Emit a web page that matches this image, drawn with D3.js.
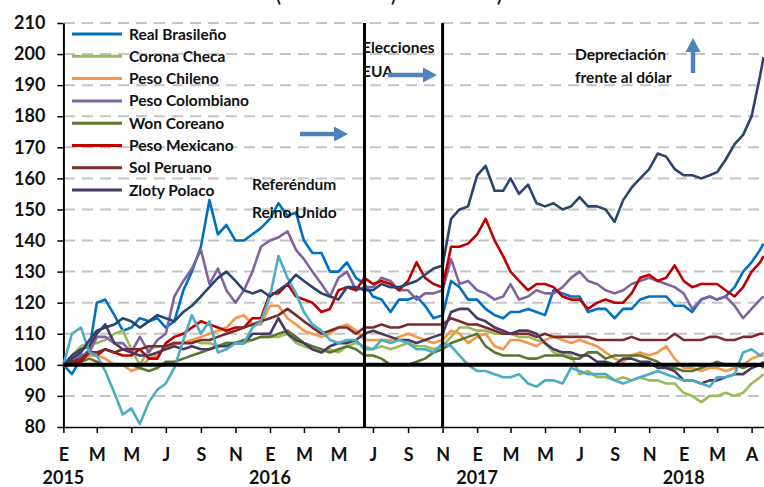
<!DOCTYPE html>
<html>
<head>
<meta charset="utf-8">
<script src="https://cdn.jsdelivr.net/npm/d3@7"></script>
<style>
  body { margin: 0; background: #fff; }
  text { font-family: Lato, "DejaVu Sans", sans-serif; font-weight: bold; fill: #111; }
</style>
</head>
<body>
<svg id="chart" width="764" height="487"></svg>
<script>
// fechas semi-mensuales (ene 2015 = 100)
const fechas = [
  "2015-01-01","2015-01-16","2015-02-01","2015-02-16","2015-03-01","2015-03-16","2015-04-01","2015-04-16","2015-05-01","2015-05-16",
  "2015-06-01","2015-06-16","2015-07-01","2015-07-16","2015-08-01","2015-08-16","2015-09-01","2015-09-16","2015-10-01","2015-10-16",
  "2015-11-01","2015-11-16","2015-12-01","2015-12-16","2016-01-01","2016-01-16","2016-02-01","2016-02-16","2016-03-01","2016-03-16",
  "2016-04-01","2016-04-16","2016-05-01","2016-05-16","2016-06-01","2016-06-16","2016-07-01","2016-07-16","2016-08-01","2016-08-16",
  "2016-09-01","2016-09-16","2016-10-01","2016-10-16","2016-11-01","2016-11-16","2016-12-01","2016-12-16","2017-01-01","2017-01-16",
  "2017-02-01","2017-02-16","2017-03-01","2017-03-16","2017-04-01","2017-04-16","2017-05-01","2017-05-16","2017-06-01","2017-06-16",
  "2017-07-01","2017-07-16","2017-08-01","2017-08-16","2017-09-01","2017-09-16","2017-10-01","2017-10-16","2017-11-01","2017-11-16",
  "2017-12-01","2017-12-16","2018-01-01","2018-01-16","2018-02-01","2018-02-16","2018-03-01","2018-03-16","2018-04-01","2018-04-16",
  "2018-05-01","2018-05-16","2018-05-22"
];

const realBrasileno = [
  100, 97, 102, 105, 120, 121, 116, 111, 112, 115,
  114, 115, 112, 114, 124, 130, 138, 153, 142, 145,
  140, 140, 142, 144, 147, 152, 148, 149, 140, 136,
  136, 130, 130, 133, 128, 126, 122, 121, 117, 121,
  121, 122, 119, 115, 116, 127, 125, 121, 121, 118,
  116, 115, 117, 117, 118, 117, 116, 124, 123, 122,
  122, 117, 118, 118, 115, 118, 118, 121, 122, 122,
  122, 119, 119, 117, 121, 122, 121, 122, 125, 130,
  133, 137, 139
];
const coronaCheca = [
  100, 103, 106, 107, 107, 108, 110, 111, 105, 100,
  105, 106, 106, 107, 107, 108, 107, 107, 106, 107,
  107, 107, 108, 109, 109, 109, 110, 107, 106, 105,
  104, 105, 104, 106, 107, 106, 105, 106, 105, 106,
  107, 106, 106, 105, 106, 109, 112, 112, 111, 111,
  110, 110, 110, 109, 109, 108, 107, 104, 103, 103,
  97, 98, 96, 96, 95, 96, 95, 96, 95, 95,
  94, 94, 91, 90, 88, 90, 90, 91, 90, 91,
  94, 96, 97
];
const pesoChileno = [
  100, 101, 102, 103, 103, 102, 100, 100, 98, 99,
  102, 103, 106, 107, 107, 108, 109, 110, 111, 112,
  115, 116, 113, 113, 119, 119, 115, 113, 111, 110,
  109, 110, 112, 113, 111, 108, 108, 108, 108, 109,
  110, 109, 108, 107, 108, 111, 110, 107, 109, 110,
  106, 105, 108, 108, 107, 106, 108, 109, 108, 107,
  108, 107, 106, 104, 102, 101, 103, 104, 103, 104,
  106, 102, 99, 99, 98, 99, 99, 98, 99, 100,
  102, 103, 104
];
const pesoColombiano = [
  100, 101, 103, 104, 109, 109, 107, 107, 104, 109,
  104, 108, 110, 122, 127, 131, 137, 126, 131, 124,
  120, 124, 130, 138, 140, 141, 143, 137, 134, 130,
  126, 122, 128, 130, 124, 125, 125, 128, 127, 124,
  124, 121, 123, 123, 124, 134, 126, 127, 124, 123,
  121, 122, 126, 121, 122, 124, 123, 123, 125, 128,
  130, 127, 126, 124, 123, 124, 126, 127, 128, 127,
  126, 125, 123, 118, 121, 122, 121, 122, 119, 115,
  118, 121, 122
];
const wonCoreano = [
  100, 100, 101, 102, 101, 100, 100, 100, 100, 99,
  98, 99, 101, 101, 102, 103, 104, 105, 106, 107,
  107, 108, 108, 109, 109, 110, 111, 109, 107, 106,
  105, 104, 105, 106, 105, 103, 103, 102, 100, 100,
  100, 101, 102, 104, 105, 107, 108, 109, 110, 106,
  104, 103, 103, 103, 102, 102, 103, 103, 103, 102,
  102, 104, 104, 102, 103, 103, 103, 103, 102, 101,
  99, 99, 98, 98, 99, 100, 101, 100, 100, 99,
  100, 100, 99
];
const pesoMexicano = [
  100, 101, 101, 104, 103, 105, 104, 103, 103, 105,
  102, 102, 107, 109, 110, 112, 114, 113, 112, 111,
  112, 112, 115, 115, 123, 123, 126, 122, 121, 120,
  117, 118, 124, 125, 124, 128, 126, 127, 126, 124,
  127, 133, 128, 126, 125, 138, 138, 139, 142, 147,
  140, 135, 130, 127, 124, 126, 126, 125, 122, 121,
  121, 118, 120, 121, 120, 120, 123, 128, 129, 127,
  128, 132, 127, 125, 126, 126, 126, 124, 122, 125,
  130, 133, 135
];
const solPeruano = [
  100, 101, 102, 104, 104, 105, 104, 105, 105, 105,
  106, 106, 106, 107, 107, 107, 108, 108, 109, 110,
  111, 112, 113, 114, 115, 116, 118, 116, 114, 112,
  110, 111, 112, 112, 110, 112, 112, 113, 112, 112,
  113, 113, 113, 113, 113, 115, 114, 113, 113, 112,
  111, 110, 110, 110, 110, 109, 110, 109, 109, 109,
  109, 109, 108, 108, 108, 108, 109, 108, 108, 108,
  108, 110, 108, 108, 108, 109, 109, 108, 108, 109,
  109, 110, 110
];
const zlotyPolaco = [
  100, 103, 105, 106, 110, 113, 107, 105, 104, 103,
  103, 104, 105, 106, 105, 106, 105, 105, 106, 106,
  107, 107, 110, 110, 110, 115, 110, 108, 107, 105,
  104, 106, 107, 107, 108, 110, 111, 110, 109, 108,
  108, 107, 108, 109, 110, 117, 118, 118, 115, 114,
  112, 111, 110, 111, 111, 110, 107, 105, 104, 104,
  103, 103, 101, 101, 100, 102, 102, 101, 101, 99,
  99, 98, 95, 95, 94, 95, 95, 96, 97, 97,
  99, 100, 101
];
// series sin entrada visible en la leyenda
const rubloRuso = [
  100, 110, 112, 104, 103, 98, 91, 84, 86, 81,
  88, 92, 94, 99, 108, 116, 110, 114, 104, 105,
  107, 107, 112, 114, 122, 135, 128, 123, 117, 113,
  111, 108, 107, 108, 108, 105, 105, 108, 107, 108,
  107, 105, 105, 104, 107, 106, 103, 100, 98, 98,
  97, 96, 96, 97, 94, 93, 95, 95, 94, 99,
  98, 97, 97, 97, 95, 94, 95, 96, 97, 98,
  97, 96, 95, 95, 94, 93, 96, 96, 97, 104,
  105, 103, 103
];
const liraTurca = [
  100, 102, 104, 108, 111, 112, 113, 115, 114, 112,
  114, 116, 115, 114, 117, 119, 122, 125, 128, 130,
  127, 124, 123, 124, 122, 124, 126, 129, 127, 125,
  123, 122, 121, 125, 125, 124, 124, 126, 125, 125,
  126, 127, 129, 131, 132, 147, 150, 151, 161, 164,
  156, 156, 160, 155, 158, 152, 151, 152, 150, 151,
  154, 151, 151, 150, 146, 153, 157, 160, 163, 168,
  167, 163, 161, 161, 160, 161, 162, 166, 171, 174,
  180, 193, 199
];

const nombres = ["Real Brasileño", "Corona Checa", "Peso Chileno", "Peso Colombiano",
                 "Won Coreano", "Peso Mexicano", "Sol Peruano", "Zloty Polaco", "Rublo Ruso", "Lira Turca"];
const colores = ["#0070C0", "#9BBB59", "#F79646", "#8064A2", "#5A7630",
                 "#C00000", "#7A2C2C", "#4A3A62", "#4BACC6", "#2A4470"];
const valores = [realBrasileno, coronaCheca, pesoChileno, pesoColombiano, wonCoreano,
                 pesoMexicano, solPeruano, zlotyPolaco, rubloRuso, liraTurca];
const enLeyenda = 8;

const ticksY = [80, 90, 100, 110, 120, 130, 140, 150, 160, 170, 180, 190, 200, 210];
const ticksX = ["2015-01-01","2015-03-01","2015-05-01","2015-07-01","2015-09-01","2015-11-01",
                "2016-01-01","2016-03-01","2016-05-01","2016-07-01","2016-09-01","2016-11-01",
                "2017-01-01","2017-03-01","2017-05-01","2017-07-01","2017-09-01","2017-11-01",
                "2018-01-01","2018-03-01","2018-05-01"];
const etiquetasX = ["E","M","M","J","S","N","E","M","M","J","S","N","E","M","M","J","S","N","E","M","A"];
const anios = [["2015-01-01","2015"], ["2016-01-01","2016"], ["2017-01-01","2017"], ["2018-01-01","2018"]];
const eventos = ["2016-06-16", "2016-11-01"];

const parseTime = d3.timeParse("%Y-%m-%d");

let svg = d3.select("#chart");

let x = d3.scaleTime()
  .domain([parseTime("2015-01-01"), parseTime("2018-05-22")])
  .range([63.4, 763.5]);
let y = d3.scaleLinear().domain([80, 210]).range([427, 23]);

// partial title at the top edge
svg.append("g").selectAll("text")
  .data([[276, "("], [391, ")"], [497, ")"]])
  .enter().append("text")
  .attr("x", d => d[0]).attr("y", 1.5)
  .style("font-size", "18px")
  .text(d => d[1]);

// grid
svg.append("g").selectAll("line")
  .data(ticksY.filter(v => v !== 80 && v !== 100))
  .enter().append("line")
  .attr("x1", 64).attr("x2", 762)
  .attr("y1", d => y(d)).attr("y2", d => y(d))
  .attr("stroke", "#C4C4C4")
  .attr("stroke-width", 2)
  .attr("stroke-dasharray", "11,7");

// y axis
let yAxis = d3.axisLeft(y).tickValues(ticksY).tickSize(6).tickSizeOuter(0).tickPadding(12);
let gy = svg.append("g").attr("transform", "translate(63.4,0)").call(yAxis);
gy.select(".domain").attr("stroke", "#000").attr("stroke-width", 2);
gy.selectAll(".tick line").attr("stroke", "#000").attr("stroke-width", 1.5);
gy.selectAll("text").style("font-size", "18px").style("font-family", "Lato, sans-serif").attr("fill", "#111");

// x axis
let xAxis = d3.axisBottom(x)
  .tickValues(ticksX.map(parseTime))
  .tickFormat((d, i) => etiquetasX[i])
  .tickSize(6).tickSizeOuter(0).tickPadding(15);
let gx = svg.append("g").attr("transform", "translate(0,427)").call(xAxis);
gx.select(".domain").attr("stroke", "#000").attr("stroke-width", 1.5);
gx.selectAll(".tick line").attr("stroke", "#000").attr("stroke-width", 1.5);
gx.selectAll("text").style("font-size", "18px").style("font-family", "Lato, sans-serif").attr("fill", "#111");

svg.append("g").selectAll("text")
  .data(anios)
  .enter().append("text")
  .attr("x", d => x(parseTime(d[0])))
  .attr("y", 484)
  .attr("text-anchor", "middle")
  .style("font-size", "18px")
  .text(d => d[1]);

// series
let line = d3.line()
  .x((d, i) => x(parseTime(fechas[i])))
  .y(d => y(d));

svg.append("g").selectAll("path")
  .data(valores)
  .enter().append("path")
  .attr("d", d => line(d))
  .attr("fill", "none")
  .attr("stroke", (d, i) => colores[i])
  .attr("stroke-width", 2.6)
  .attr("stroke-linejoin", "round");

// base line at 100 and event lines
svg.append("line")
  .attr("x1", 63.4).attr("x2", 764)
  .attr("y1", y(100)).attr("y2", y(100))
  .attr("stroke", "#000").attr("stroke-width", 4);

svg.append("g").selectAll("line")
  .data(eventos)
  .enter().append("line")
  .attr("x1", d => x(parseTime(d))).attr("x2", d => x(parseTime(d)))
  .attr("y1", y(210)).attr("y2", y(80))
  .attr("stroke", "#000").attr("stroke-width", 3);

// legend
let leyenda = svg.append("g").selectAll("g")
  .data(nombres.slice(0, enLeyenda))
  .enter().append("g")
  .attr("transform", (d, i) => "translate(72," + (34 + i * 22.3) + ")");
leyenda.append("line")
  .attr("x1", 0).attr("x2", 50)
  .attr("stroke", (d, i) => colores[i])
  .attr("stroke-width", 3);
leyenda.append("text")
  .attr("x", 57).attr("dy", "0.36em")
  .style("font-size", "15.5px")
  .text(d => d);

// annotations
let notas = [
  [362, 53, "Elecciones"], [362, 77, "EUA"],
  [252, 190, "Referéndum"], [252, 218, "Reino Unido"],
  [575, 60, "Depreciación"], [575, 83, "frente al dólar"]
];
svg.append("g").selectAll("text")
  .data(notas)
  .enter().append("text")
  .attr("x", d => d[0]).attr("y", d => d[1])
  .style("font-size", "15.5px")
  .text(d => d[2]);

// arrows
const azulFlecha = "#4F81BD";
function flecha(x1, y1, x2, y2) {
  let ang = Math.atan2(y2 - y1, x2 - x1);
  let largo = Math.hypot(x2 - x1, y2 - y1) - 14;
  let g = svg.append("g")
    .attr("transform", "translate(" + x1 + "," + y1 + ") rotate(" + (ang * 180 / Math.PI) + ")");
  g.append("line").attr("x1", 0).attr("x2", largo + 1)
    .attr("stroke", azulFlecha).attr("stroke-width", 4.5);
  g.append("path")
    .attr("d", "M" + largo + ",-7.5L" + (largo + 14) + ",0L" + largo + ",7.5Z")
    .attr("fill", azulFlecha);
}
flecha(300, 134, 348, 134);
flecha(388, 75, 437, 75);
flecha(693, 73, 693, 38);
</script>
</body>
</html>
